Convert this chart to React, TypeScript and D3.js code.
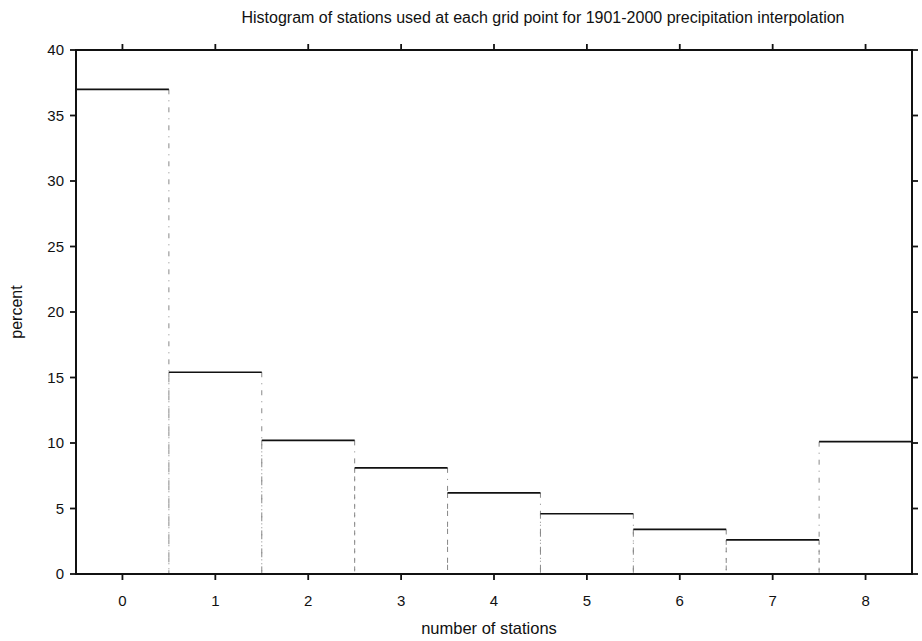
import React from "react";
import * as d3 from "d3";

// Histogram data: percent of grid points using N stations
const stationCounts = [0, 1, 2, 3, 4, 5, 6, 7, 8];
const percentValues = [37.0, 15.4, 10.2, 8.1, 6.2, 4.6, 3.4, 2.6, 10.1];
const yTicks = [0, 5, 10, 15, 20, 25, 30, 35, 40];

const W = 922;
const H = 641;
const margin = { left: 76, right: 10, top: 50, bottom: 67 };
const FONT = "'Liberation Sans', Arial, Helvetica, sans-serif";

export default function App() {
  const x = d3
    .scaleLinear()
    .domain([-0.5, 8.5])
    .range([margin.left, W - margin.right]);
  const y = d3
    .scaleLinear()
    .domain([0, 40])
    .range([H - margin.bottom, margin.top]);

  const x0 = x(-0.5);
  const x1 = x(8.5);
  const yTop = y(40);
  const yBot = y(0);
  const tickLen = 6;

  return (
    <svg
      width={W}
      height={H}
      style={{ position: "absolute", left: 0, top: 0, background: "#fff" }}
      fontFamily={FONT}
    >
      <rect x={0} y={0} width={W} height={H} fill="#fff" />

      {/* bars: dashed grey sides, solid black tops */}
      {stationCounts.map((c, i) => {
        const l = x(c - 0.5);
        const r = x(c + 0.5);
        const t = y(percentValues[i]);
        return (
          <g key={c}>
            <line x1={l} x2={l} y1={t} y2={yBot} stroke="#888" strokeWidth={1} strokeDasharray="5 6 1 6" />
            <line x1={r} x2={r} y1={t} y2={yBot} stroke="#888" strokeWidth={1} strokeDasharray="5 6 1 6" />
            <line x1={l} x2={r} y1={t} y2={t} stroke="#111" strokeWidth={1.7} />
          </g>
        );
      })}

      {/* frame */}
      <rect x={x0} y={yTop} width={x1 - x0} height={yBot - yTop} fill="none" stroke="#111" strokeWidth={2} />

      {/* y ticks left and right */}
      {yTicks.map((v) => (
        <g key={v}>
          <line x1={x0 - tickLen} x2={x0} y1={y(v)} y2={y(v)} stroke="#111" strokeWidth={1.8} />
          <line x1={x1} x2={x1 + tickLen} y1={y(v)} y2={y(v)} stroke="#111" strokeWidth={1.8} />
          <text x={x0 - 12} y={y(v)} dy="0.35em" textAnchor="end" fontSize={15} fill="#111">
            {v}
          </text>
        </g>
      ))}

      {/* x ticks bottom and top */}
      {stationCounts.map((c) => (
        <g key={c}>
          <line x1={x(c)} x2={x(c)} y1={yBot} y2={yBot + tickLen} stroke="#111" strokeWidth={1.8} />
          <line x1={x(c)} x2={x(c)} y1={yTop - tickLen} y2={yTop} stroke="#111" strokeWidth={1.8} />
          <text x={x(c)} y={yBot + 32} textAnchor="middle" fontSize={15} fill="#111">
            {c}
          </text>
        </g>
      ))}

      <text x={543} y={23} textAnchor="middle" fontSize={16} fill="#111">
        Histogram of stations used at each grid point for 1901-2000 precipitation interpolation
      </text>
      <text x={489} y={634} textAnchor="middle" fontSize={16.5} fill="#111">
        number of stations
      </text>
      <text
        transform={`translate(22, ${(yTop + yBot) / 2}) rotate(-90)`}
        textAnchor="middle"
        fontSize={16}
        fill="#111"
      >
        percent
      </text>
    </svg>
  );
}
